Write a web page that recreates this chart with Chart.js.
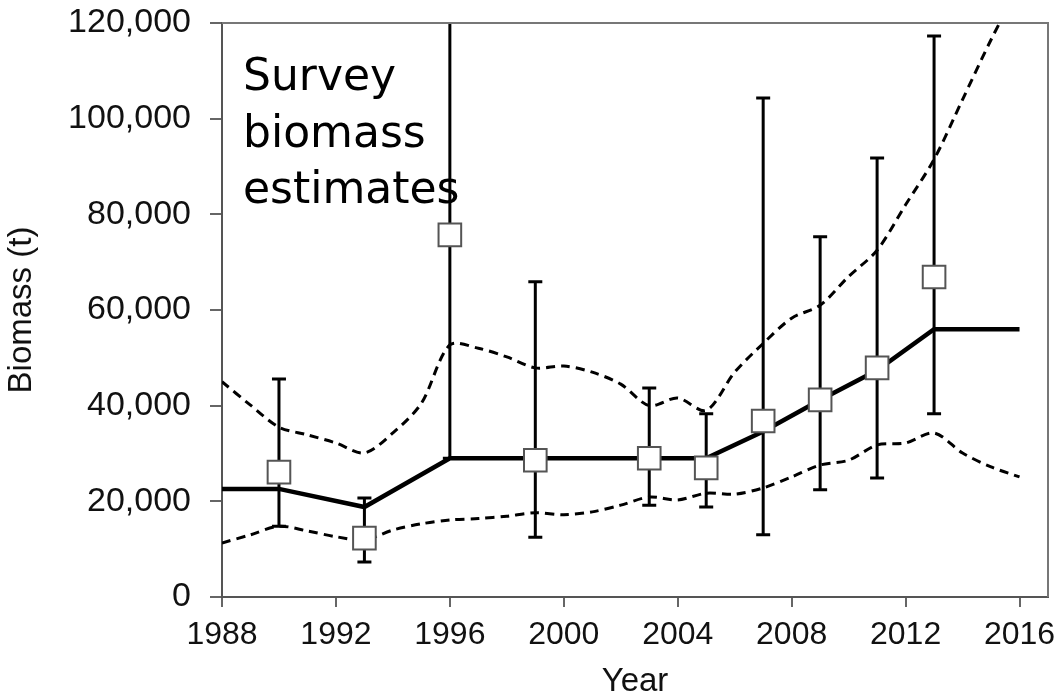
<!DOCTYPE html>
<html>
<head>
<meta charset="utf-8">
<script src="https://cdn.jsdelivr.net/npm/chart.js@4"></script>
<style>
  html, body { margin: 0; padding: 0; background: #fff; }
  #wrap { width: 1057px; height: 698px; }
</style>
</head>
<body>
<div id="wrap"><canvas id="myChart"></canvas></div>
<script>
// survey biomass estimates (squares) with error bars
const surveyYears = [1990, 1993, 1996, 1999, 2003, 2005, 2007, 2009, 2011, 2013];
const surveyValues = [26100, 12300, 75700, 28600, 29000, 27000, 36800, 41200, 47900, 66900];
const surveyLower = [14800, 7300, 29000, 12500, 19200, 18800, 13000, 22400, 24900, 38300];
const surveyUpper = [45600, 20700, 140000, 65900, 43700, 38300, 104300, 75300, 91800, 117300];

// fitted biomass (solid line)
const fitYears = [1988, 1990, 1993, 1996, 2005, 2007, 2009, 2011, 2013, 2016];
const fitValues = [22600, 22600, 18800, 29000, 29000, 34600, 41200, 47400, 56000, 56000];

// confidence band (dashed lines), one value per year
const bandYears = [1988, 1989, 1990, 1991, 1992, 1993, 1994, 1995, 1996, 1997, 1998, 1999, 2000, 2001, 2002,
  2003, 2004, 2005, 2006, 2007, 2008, 2009, 2010, 2011, 2012, 2013, 2014, 2015, 2016];
const bandUpper = [45000, 40100, 35500, 33900, 32200, 30100, 34300, 40500, 52700, 52000, 50200, 47900, 48300, 47000, 44500,
  40000, 41600, 39000, 47000, 53000, 58300, 61000, 67000, 72500, 82000, 91500, 104000, 116500, 128000];
const bandLower = [11300, 13000, 14800, 13800, 12600, 11900, 14000, 15300, 16100, 16400, 16900, 17600, 17200, 17800, 19200,
  20900, 20300, 21700, 21500, 22800, 25100, 27600, 28600, 31800, 32200, 34300, 30100, 27200, 25100];

const xTicks = [1988, 1992, 1996, 2000, 2004, 2008, 2012, 2016];

function pts(xs, ys) {
  return xs.map((x, i) => ({ x: x, y: ys[i] }));
}

const errorBars = {
  id: 'errorBars',
  beforeDatasetsDraw(chart) {
    const c = chart.ctx;
    const xs = chart.scales.x;
    const ys = chart.scales.y;
    const a = chart.chartArea;
    c.save();
    c.beginPath();
    c.rect(a.left, a.top, a.right - a.left, a.bottom - a.top);
    c.clip();
    c.strokeStyle = '#000';
    c.lineWidth = 3;
    surveyYears.forEach((yr, i) => {
      const px = xs.getPixelForValue(yr);
      const lo = ys.getPixelForValue(surveyLower[i]);
      const hi = ys.getPixelForValue(surveyUpper[i]);
      c.beginPath();
      c.moveTo(px, lo);
      c.lineTo(px, hi);
      c.moveTo(px - 7, lo);
      c.lineTo(px + 7, lo);
      c.moveTo(px - 7, hi);
      c.lineTo(px + 7, hi);
      c.stroke();
    });
    c.restore();
  },
  afterDraw(chart) {
    const c = chart.ctx;
    const a = chart.chartArea;
    c.save();
    // top and right frame
    c.strokeStyle = '#777';
    c.lineWidth = 2;
    c.beginPath();
    c.moveTo(a.left, a.top);
    c.lineTo(a.right, a.top);
    c.lineTo(a.right, a.bottom);
    c.stroke();
    // label
    c.fillStyle = '#000';
    c.font = '44px "Comic Sans MS", "DejaVu Sans", sans-serif';
    c.textBaseline = 'alphabetic';
    c.fillText('Survey', a.left + 21, a.top + 67);
    c.fillText('biomass', a.left + 21, a.top + 124);
    c.fillText('estimates', a.left + 21, a.top + 180);
    c.restore();
  }
};

new Chart(document.getElementById('myChart'), {
  type: 'line',
  data: {
    datasets: [
      {
        label: 'Survey',
        data: pts(surveyYears, surveyValues),
        showLine: false,
        pointStyle: 'rect',
        pointRadius: 16,
        pointBackgroundColor: '#fff',
        pointBorderColor: '#555',
        pointBorderWidth: 2
      },
      {
        label: 'Fit',
        data: pts(fitYears, fitValues),
        borderColor: '#000',
        borderWidth: 4.5,
        pointRadius: 0,
        tension: 0
      },
      {
        label: 'Upper',
        data: pts(bandYears, bandUpper),
        borderColor: '#000',
        borderWidth: 3,
        borderDash: [9, 6],
        pointRadius: 0,
        tension: 0.3
      },
      {
        label: 'Lower',
        data: pts(bandYears, bandLower),
        borderColor: '#000',
        borderWidth: 3,
        borderDash: [9, 6],
        pointRadius: 0,
        tension: 0.3
      }
    ]
  },
  options: {
    responsive: true,
    maintainAspectRatio: false,
    animation: false,
    layout: { autoPadding: false, padding: { top: 23, right: 9, left: 0, bottom: 0 } },
    plugins: {
      legend: { display: false },
      tooltip: { enabled: false }
    },
    scales: {
      x: {
        type: 'linear',
        min: 1988,
        max: 2017,
        afterFit(s) {
          s.height = 101;
          s.paddingLeft = 0;
          s.paddingRight = 0;
        },
        afterBuildTicks(s) { s.ticks = xTicks.map(v => ({ value: v })); },
        ticks: {
          callback: v => String(v),
          color: '#111',
          padding: 9,
          maxRotation: 0,
          font: { family: '"Liberation Sans", Arial, sans-serif', size: 32 }
        },
        grid: { drawOnChartArea: false, drawTicks: true, tickLength: 10, color: '#666', lineWidth: 2 },
        border: { display: true, color: '#555', width: 2 },
        title: {
          display: true,
          text: 'Year',
          color: '#111',
          padding: { top: 0, bottom: 0 },
          font: { family: '"Liberation Sans", Arial, sans-serif', size: 33, lineHeight: 1.0 }
        }
      },
      y: {
        min: 0,
        max: 120000,
        afterFit(s) {
          s.width = 222;
          s.paddingTop = 0;
          s.paddingBottom = 0;
        },
        ticks: {
          stepSize: 20000,
          callback: v => v.toLocaleString('en-US'),
          color: '#111',
          padding: 19,
          font: { family: '"Liberation Sans", Arial, sans-serif', size: 34 }
        },
        grid: { drawOnChartArea: false, drawTicks: true, tickLength: 12, color: '#666', lineWidth: 2 },
        border: { display: true, color: '#555', width: 2 },
        title: {
          display: true,
          text: 'Biomass (t)',
          color: '#111',
          padding: { top: 2, bottom: 0 },
          font: { family: '"Liberation Sans", Arial, sans-serif', size: 33 }
        }
      }
    }
  },
  plugins: [errorBars]
});
</script>
</body>
</html>
